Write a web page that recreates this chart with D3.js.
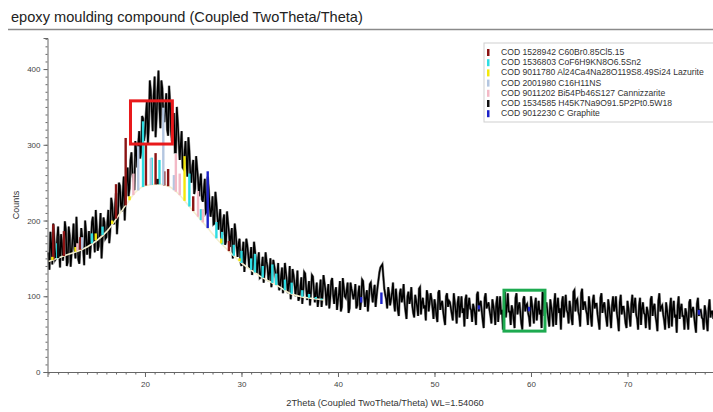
<!DOCTYPE html>
<html>
<head>
<meta charset="utf-8">
<script src="https://cdn.jsdelivr.net/npm/d3@7"></script>
<style>
  body { margin: 0; background: #fff; font-family: "Liberation Sans", Arial, sans-serif; }
  svg { display: block; }
</style>
</head>
<body>
<div id="chart"></div>
<script>
// measured counts, 2theta from 10.0 in 0.2 deg steps
const startAngle = 10.0;
const stepAngle = 0.2;
const counts = [
  158, 185, 142, 176, 150, 192, 138, 170, 160, 188,
  145, 180, 158, 196, 150, 172, 143, 190, 162, 200,
  155, 186, 170, 205, 158, 192, 166, 210, 172, 198,
  178, 214, 186, 222, 195, 236, 204, 246, 212, 258,
  228, 270, 242, 290, 255, 305, 270, 318, 290, 335,
  315, 358, 325, 372, 318, 390, 335, 398, 322, 375,
  330, 368, 312, 355, 305, 342, 290, 330, 280, 318,
  268, 305, 258, 292, 250, 280, 242, 270, 232, 262,
  225, 255, 212, 242, 205, 232, 196, 224, 188, 215,
  182, 208, 172, 198, 165, 190, 158, 184, 152, 176,
  140, 172, 150, 168, 136, 165, 142, 160, 130, 158,
  125, 152, 132, 146, 120, 150, 126, 140, 115, 144,
  112, 138, 118, 132, 104, 140, 110, 128, 100, 134,
  98, 125, 106, 130, 95, 120, 104, 126, 92, 118,
  96, 122, 100, 118, 88, 116, 98, 124, 90, 112,
  95, 120, 86, 112, 98, 118, 84, 110, 96, 116,
  88, 114, 94, 120, 86, 108, 96, 118, 92, 115,
  100, 122, 138, 142, 110, 96, 112, 88, 104, 92,
  110, 82, 104, 92, 116, 80, 100, 90, 112, 78,
  102, 86, 110, 76, 98, 88, 108, 80, 104, 84,
  96, 74, 105, 82, 94, 70, 100, 86, 92, 76,
  104, 80, 92, 72, 100, 84, 96, 70, 98, 82,
  90, 76, 102, 80, 94, 68, 98, 84, 92, 74,
  96, 78, 90, 66, 100, 82, 94, 72, 104, 80,
  88, 70, 98, 76, 92, 64, 96, 80, 90, 72,
  100, 78, 88, 68, 94, 82, 106, 74, 92, 70,
  96, 76, 90, 62, 98, 84, 92, 72, 102, 78,
  94, 70, 106, 80, 96, 74, 104, 82, 92, 76,
  100, 72, 94, 84, 90, 66, 98, 78, 92, 70,
  96, 74, 88, 80, 100, 68, 92, 76, 86, 64,
  94, 72, 90, 78, 98, 70, 88, 62, 92, 76,
  86, 70, 96, 74, 90, 66, 94, 80, 88, 68,
  92, 72, 86, 60, 94, 76, 88, 70, 90, 74,
  84, 68, 92, 72, 86, 62, 90, 74, 82, 70,
  88, 66, 84, 72, 80
];
// the in-between readings, 2theta from 10.1 in 0.2 deg steps
const countsMid = [
  135, 168, 196, 148, 175, 160, 182, 147, 199, 140,
  192, 139, 176, 162, 205, 148, 168, 178, 141, 184,
  168, 150, 198, 182, 214, 160, 188, 150, 204, 176,
  196, 170, 230, 200, 218, 182, 250, 220, 236, 200,
  255, 232, 280, 262, 240, 292, 300, 282, 338, 305,
  340, 300, 385, 345, 365, 310, 372, 348, 385, 340,
  345, 320, 378, 318, 330, 290, 350, 305, 300, 270,
  290, 275, 310, 262, 270, 235, 285, 255, 250, 228,
  240, 210, 258, 220, 215, 195, 238, 205, 202, 180,
  200, 168, 212, 185, 180, 150, 196, 166, 170, 145,
  158, 132, 176, 155, 150, 128, 172, 148, 146, 124,
  140, 118, 158, 138, 132, 112, 148, 132, 128, 108,
  126, 104, 144, 120, 118, 96, 136, 116, 115, 94,
  112, 90, 132, 112, 108, 88, 128, 110, 106, 86,
  108, 86, 128, 108, 104, 84, 120, 102, 106, 82,
  104, 80, 124, 100, 108, 78, 118, 104, 102, 84,
  104, 82, 122, 102, 100, 80, 116, 104, 106, 86,
  112, 132, 140, 126, 102, 84, 104, 96, 118, 80,
  96, 74, 110, 98, 92, 70, 106, 96, 88, 72,
  94, 74, 112, 92, 84, 68, 102, 92, 96, 70,
  88, 66, 108, 90, 80, 62, 104, 94, 84, 68,
  92, 64, 100, 86, 78, 60, 102, 88, 84, 66,
  84, 62, 106, 90, 80, 58, 104, 88, 82, 64,
  88, 62, 100, 84, 76, 56, 106, 86, 80, 62,
  82, 58, 104, 86, 78, 56, 100, 88, 78, 60,
  90, 64, 98, 82, 76, 58, 102, 86, 80, 60,
  86, 60, 104, 88, 78, 56, 100, 86, 82, 64,
  84, 62, 108, 94, 80, 60, 110, 92, 82, 62,
  88, 60, 102, 90, 76, 56, 104, 88, 80, 60,
  86, 58, 100, 86, 78, 54, 102, 86, 76, 58,
  84, 60, 102, 88, 76, 56, 98, 84, 78, 58,
  80, 56, 100, 86, 74, 54, 104, 86, 76, 56,
  82, 58, 98, 84, 72, 52, 100, 84, 74, 56,
  78, 56, 96, 82, 74, 52, 98, 82, 72, 56,
  80, 54, 96, 80, 70
];

// background (amorphous hump) curve
const bgAngles = [10, 12, 14, 16, 18, 19, 20, 21.4, 22.5, 23.5, 24.5, 25.5, 26.5, 27.5, 28.5, 30, 32, 34, 35, 36, 38, 38.6, 42, 50, 60, 70, 79];
const bgCounts = [146, 155, 165, 185, 220, 237, 246, 248, 245, 235, 220, 205, 190, 175, 162, 144, 126, 112, 104, 100, 96, 95, 92, 85, 80, 78, 75];
const bgVisibleEnd = 38.6;

// reference phases (legend order)
const phaseNames = [
  "COD 1528942 C60Br0.85Cl5.15",
  "COD 1536803 CoF6H9KN8O6.5Sn2",
  "COD 9011780 Al24Ca4Na28O119S8.49Si24 Lazurite",
  "COD 2001980 C16H11NS",
  "COD 9011202 Bi54Pb46S127 Cannizzarite",
  "COD 1534585 H45K7Na9O91.5P2Pt0.5W18",
  "COD 9012230 C Graphite"
];
const phaseColors = ["#8b1414", "#2fdde3", "#f3e80a", "#b4c6e0", "#f3b9c6", "#111111", "#1c22c8"];

// stick positions (2theta) and tops (counts), one pair of arrays per phase
const stickAngles = [
  [10.5, 11.6, 13.3, 17.0, 18.0, 20.1, 21.1, 22.0, 22.4, 25.0, 28.7],
  [10.9, 14.5, 15.6, 19.8, 20.7, 21.5, 24.6, 25.8, 27.4, 28.0, 29.2, 30.0, 31.0, 31.4, 32.2, 33.2, 33.6, 34.5, 35.2, 36.3, 37.0, 37.7, 38.3],
  [10.4, 12.8, 14.9, 16.6, 18.4, 24.1, 27.9, 29.8],
  [13.5, 19.3, 20.6, 21.9, 23.0],
  [13.0, 18.8, 23.2, 23.6, 25.5, 26.0],
  [11.0, 21.3],
  [26.5, 42.4, 44.5, 54.6, 59.8, 77.4]
];
const stickTops = [
  [195, 186, 178, 248, 309, 300, 289, 265, 268, 232, 173],
  [170, 183, 192, 331, 283, 280, 262, 215, 198, 185, 168, 160, 150, 156, 140, 142, 130, 122, 118, 108, 103, 99, 97],
  [152, 165, 183, 200, 232, 285, 176, 150],
  [178, 298, 282, 349, 260],
  [170, 262, 288, 262, 239, 215],
  [180, 255],
  [265, 99, 105, 88, 86, 82]
];

// highlight boxes [x0, x1, y0, y1] in data units
const boxes = [[18.5, 22.84, 301, 358], [57.2, 61.45, 54, 108]];
const boxColors = ["#e8191b", "#1daa50"];

const W = 713, H = 412;
const x = d3.scaleLinear().domain([9.9, 78.86]).range([47.5, 713]);
const y = d3.scaleLinear().domain([0, 441]).range([372, 38]);

const svg = d3.select('#chart').append('svg')
  .attr('width', W)
  .attr('height', H);

// title + rule
svg.append('text')
  .attr('x', 11)
  .attr('y', 22)
  .style('font-size', '14.6px')
  .style('fill', '#222')
  .text('epoxy moulding compound (Coupled TwoTheta/Theta)');
svg.append('line')
  .attr('x1', 8).attr('x2', W)
  .attr('y1', 29.5).attr('y2', 29.5)
  .attr('stroke', '#8a8a8a')
  .attr('stroke-width', 1.5);

const plot = svg.append('g');

// measured pattern, both reading sets merged in angle order
const pts = [];
counts.forEach((c, i) => {
  pts.push([startAngle + i * stepAngle, c]);
  if (i < countsMid.length) pts.push([startAngle + stepAngle / 2 + i * stepAngle, countsMid[i]]);
});
const line = d3.line().x(d => x(d[0])).y(d => y(d[1]));
plot.append('path')
  .datum(pts)
  .attr('d', line)
  .attr('fill', 'none')
  .attr('stroke', '#8e8e8e')
  .attr('stroke-width', 2.6);
plot.append('path')
  .datum(pts)
  .attr('d', line)
  .attr('fill', 'none')
  .attr('stroke', '#000')
  .attr('stroke-width', 1.5);

const bg = d3.scaleLinear().domain(bgAngles).range(bgCounts);

// background curve (visible part)
const bgPts = bgAngles.filter(a => a <= bgVisibleEnd).map((a, i) => [a, bgCounts[i]]);
plot.append('path')
  .datum(bgPts)
  .attr('d', d3.line().curve(d3.curveMonotoneX).x(d => x(d[0])).y(d => y(d[1])))
  .attr('fill', 'none')
  .attr('stroke', '#f4efcf')
  .attr('stroke-width', 1.6);

// reference sticks
stickAngles.forEach((angles, p) => {
  plot.append('g')
    .selectAll('rect')
    .data(angles.map((a, i) => ({a: a, top: stickTops[p][i]})))
    .join('rect')
    .attr('x', d => x(d.a) - 1.2)
    .attr('width', 2.4)
    .attr('y', d => y(Math.max(d.top, bg(d.a))))
    .attr('height', d => Math.abs(y(bg(d.a)) - y(d.top)))
    .attr('fill', phaseColors[p]);
});

// axes
const xAxis = svg.append('g')
  .attr('transform', `translate(0, ${y(0)})`)
  .call(d3.axisBottom(x).tickValues(d3.range(20, 80, 10)).tickSize(5).tickFormat(d3.format('d')));
svg.append('g')
  .attr('transform', `translate(0, ${y(0)})`)
  .call(d3.axisBottom(x).tickValues(d3.range(10, 79, 1)).tickSize(2.5).tickFormat(''))
  .select('.domain').remove();

const yAxis = svg.append('g')
  .attr('transform', `translate(${x.range()[0]}, 0)`)
  .call(d3.axisLeft(y).tickValues([0, 100, 200, 300, 400]).tickSize(4).tickFormat(d3.format('d')));
svg.append('g')
  .attr('transform', `translate(${x.range()[0]}, 0)`)
  .call(d3.axisLeft(y).tickValues(d3.range(0, 441, 10)).tickSize(2).tickFormat(''))
  .select('.domain').remove();

svg.selectAll('.domain').attr('stroke', '#666');
svg.selectAll('.tick line').attr('stroke', '#666');
svg.selectAll('.tick text')
  .style('font-family', '"Liberation Sans", Arial, sans-serif')
  .style('font-size', '8px')
  .attr('fill', '#444');
xAxis.selectAll('.tick text').attr('dy', '0.9em');

// axis titles
svg.append('text')
  .attr('transform', `translate(19, 205) rotate(-90)`)
  .attr('text-anchor', 'middle')
  .style('font-size', '9px')
  .style('fill', '#333')
  .text('Counts');
svg.append('text')
  .attr('x', 385)
  .attr('y', 406)
  .attr('text-anchor', 'middle')
  .style('font-size', '9.3px')
  .style('fill', '#333')
  .text('2Theta (Coupled TwoTheta/Theta) WL=1.54060');

// highlight boxes
svg.append('g')
  .selectAll('rect')
  .data(boxes)
  .join('rect')
  .attr('x', d => x(d[0]))
  .attr('y', d => y(d[3]))
  .attr('width', d => x(d[1]) - x(d[0]))
  .attr('height', d => y(d[2]) - y(d[3]))
  .attr('fill', 'none')
  .attr('stroke', (d, i) => boxColors[i])
  .attr('stroke-width', 3);

// legend
const legend = svg.append('g').attr('transform', 'translate(484, 43)');
legend.append('rect')
  .attr('width', 240).attr('height', 79)
  .attr('fill', '#fff')
  .attr('stroke', '#cfcfcf');
const items = legend.selectAll('g.item')
  .data(phaseNames)
  .join('g')
  .attr('class', 'item')
  .attr('transform', (d, i) => `translate(0, ${12 + i * 10.2})`);
items.append('rect')
  .attr('x', 3).attr('y', -6)
  .attr('width', 2.5).attr('height', 7)
  .attr('fill', (d, i) => phaseColors[i]);
items.append('text')
  .attr('x', 17)
  .attr('y', 0)
  .style('font-size', '8.6px')
  .style('fill', '#333')
  .text(d => d);
</script>
</body>
</html>
